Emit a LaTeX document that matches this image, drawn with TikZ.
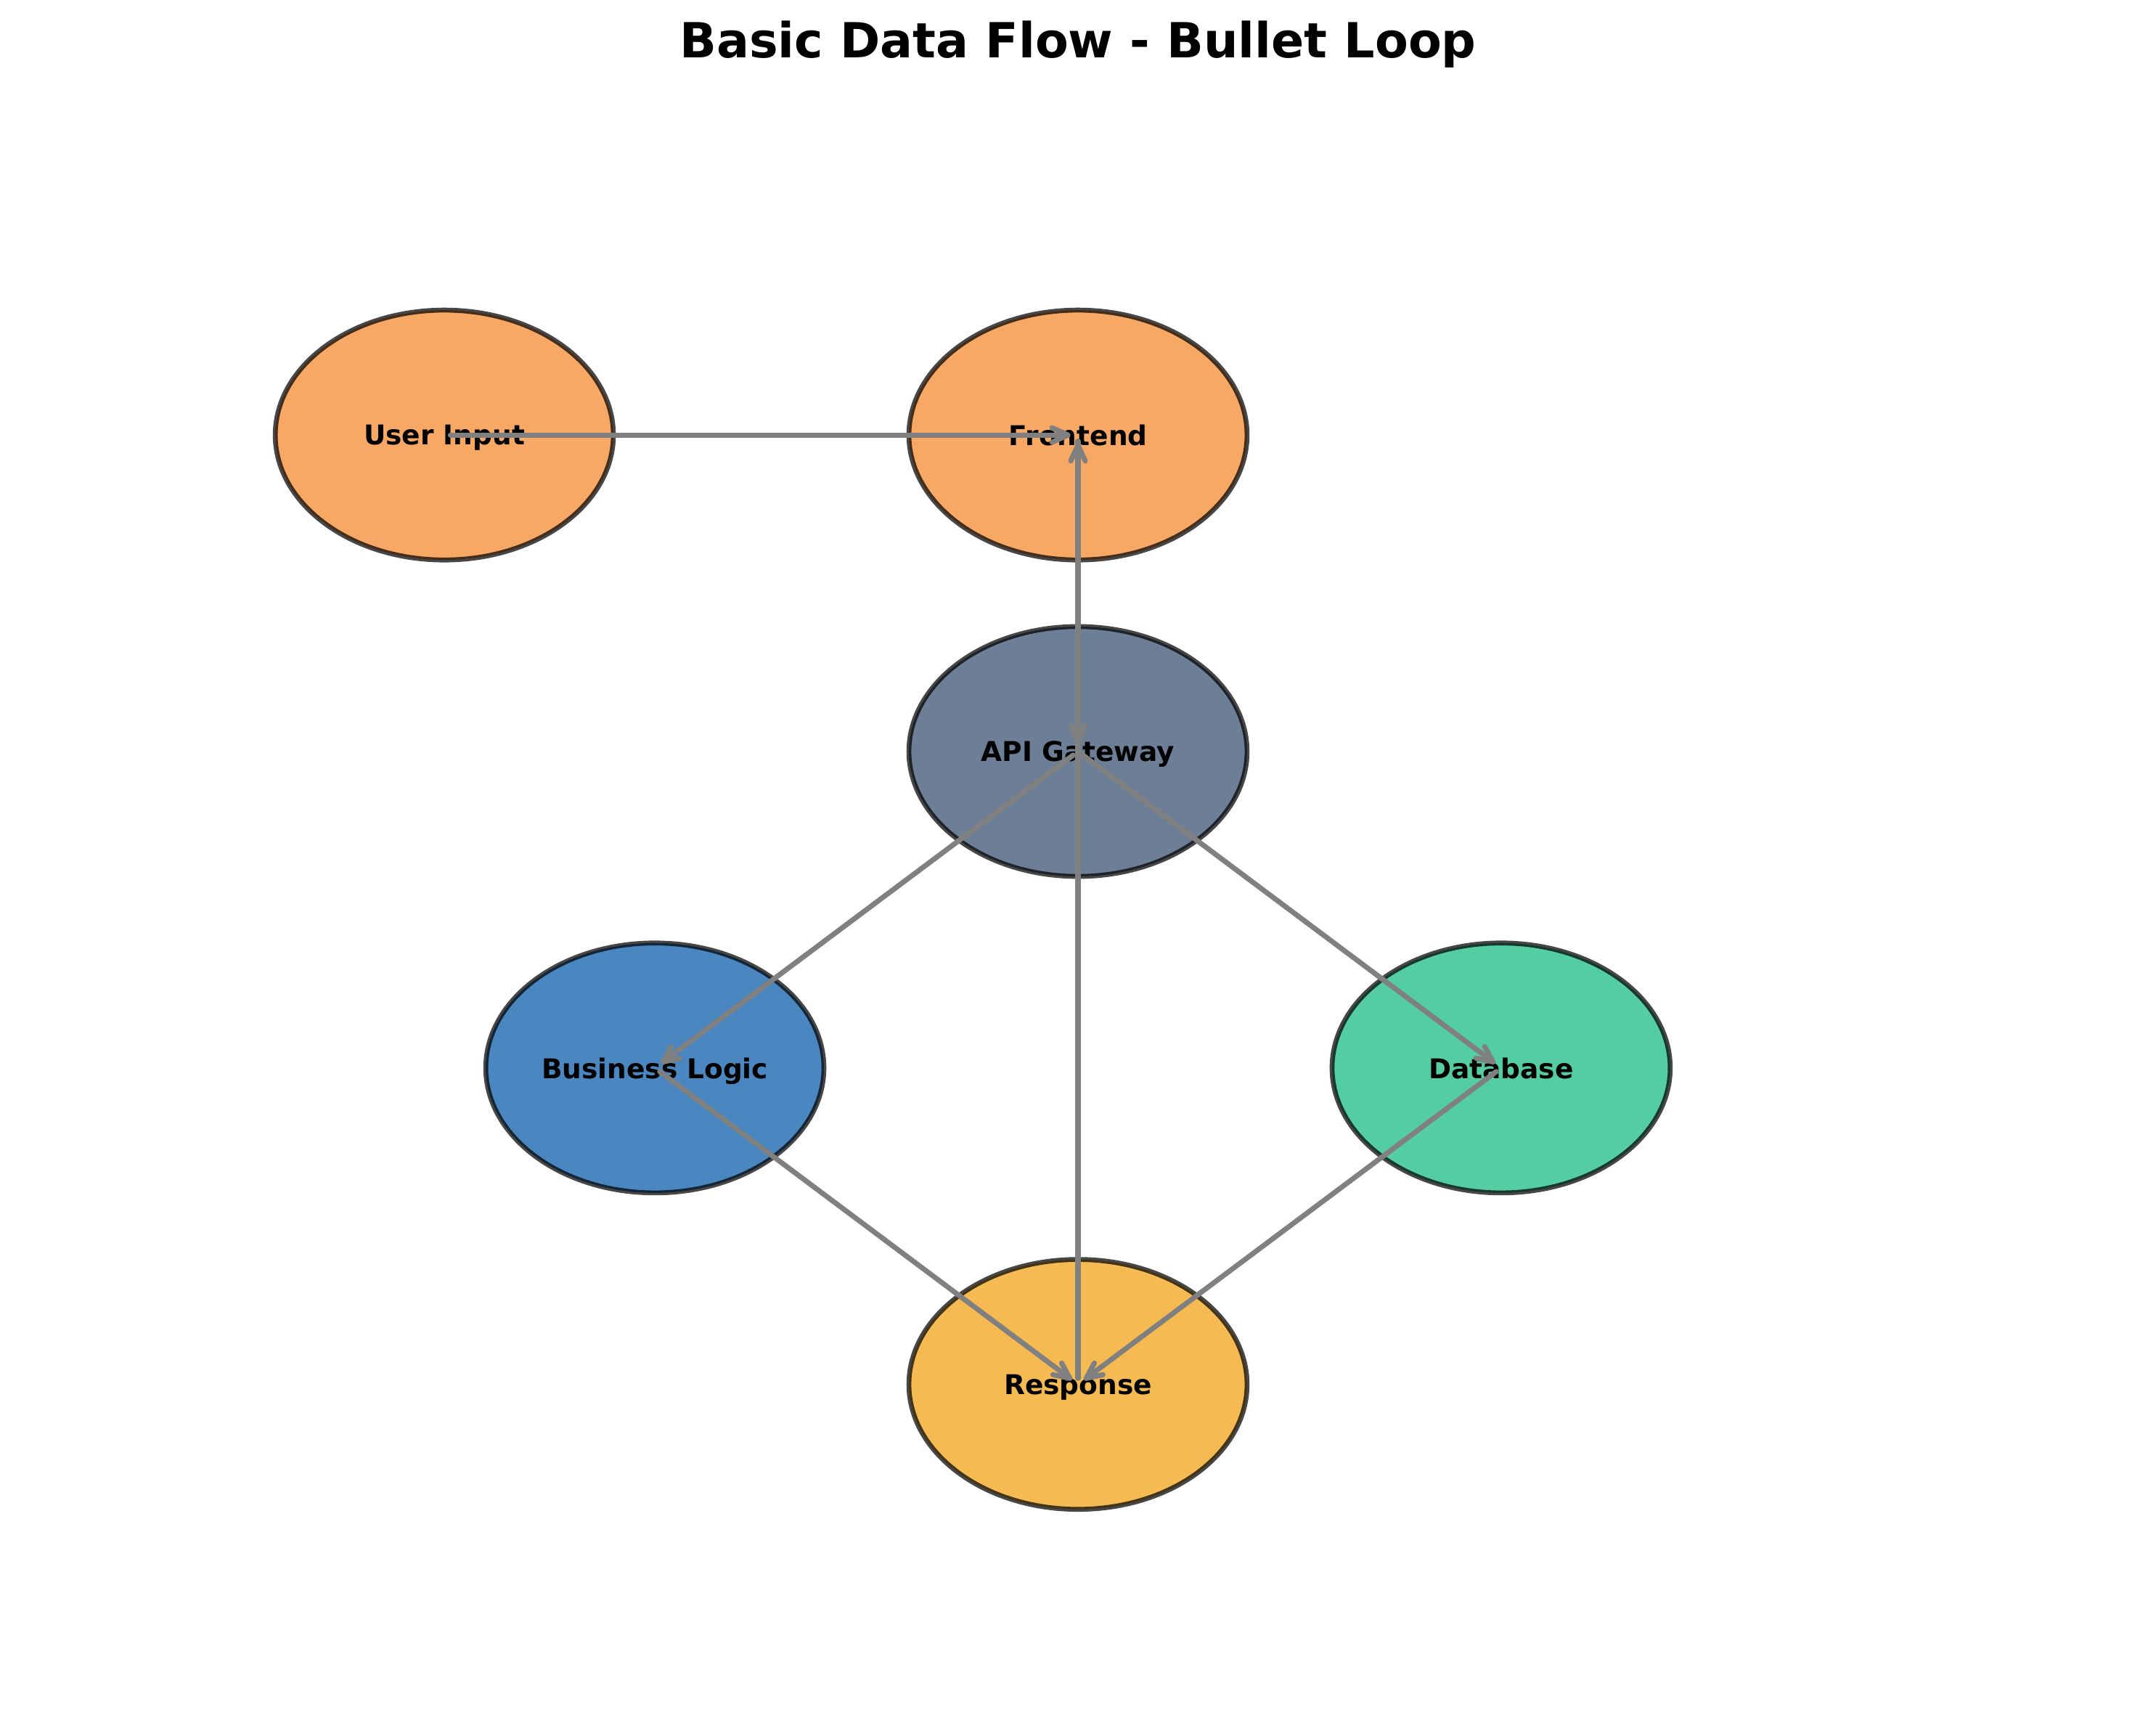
\documentclass[tikz,border=0pt]{standalone}
\usepackage{fontspec}
\setmainfont{DejaVu Sans}
\usepackage{tikz}
\usetikzlibrary{positioning, arrows.meta, shapes.geometric}
\definecolor{dforange}{RGB}{246,168,100}
\definecolor{dfslate}{RGB}{108,127,150}
\definecolor{dfblue}{RGB}{74,134,191}
\definecolor{dfgreen}{RGB}{85,205,163}
\definecolor{dfyellow}{RGB}{245,187,82}
\definecolor{dfgray}{RGB}{128,128,128}

\begin{document}
\begin{tikzpicture}[>={Straight Barb[length=5.2pt, width=4.8pt, line cap=round, line join=round]},
          font=\fontsize{9}{11}\selectfont\bfseries, on grid,
          nd/.style ={ellipse, draw=black, draw opacity=0.72, line width=1.6pt, text depth=0pt,
                      minimum width=111.8pt, minimum height=82.6pt, inner sep=0pt},
          orn/.style={nd, fill=dforange},
          sln/.style={nd, fill=dfslate},
          bln/.style={nd, fill=dfblue},
          grn/.style={nd, fill=dfgreen},
          yln/.style={nd, fill=dfyellow},
          ed/.style ={draw=dfgray, line width=1.7pt, ->, line cap=round,
                      shorten >=2.5pt, shorten <=2pt}]
        \useasboundingbox (-356.4pt,-321.1pt) rectangle (356.4pt,248.4pt);
        \node[sln] (api) {API Gateway};
        \node[orn, above=104.6pt of api] (front) {Frontend};
        \node[orn, left=209.5pt of front] (user) {User Input};
        \node[bln, below left=104.6pt and 139.9pt of api] (logic) {Business Logic};
        \node[grn, below right=104.6pt and 139.9pt of api] (db) {Database};
        \node[yln, below=209.2pt of api] (resp) {Response};
        \node[font=\fontsize{16}{19}\selectfont\bfseries, above=129.1pt of front] (ttl)
             {Basic Data Flow - Bullet Loop};
        % flow, centre to centre
        \draw[ed] (user.center) -- (front.center);
        \draw[ed] (front.center) -- (api.center);
        \draw[ed] (api.center) -- (logic.center); \draw[ed] (api.center) -- (db.center);
        \draw[ed] (logic.center) -- (resp.center); \draw[ed] (db.center) -- (resp.center);
        \draw[ed] (resp.center) -- (front.center);
      \end{tikzpicture}
\end{document}
